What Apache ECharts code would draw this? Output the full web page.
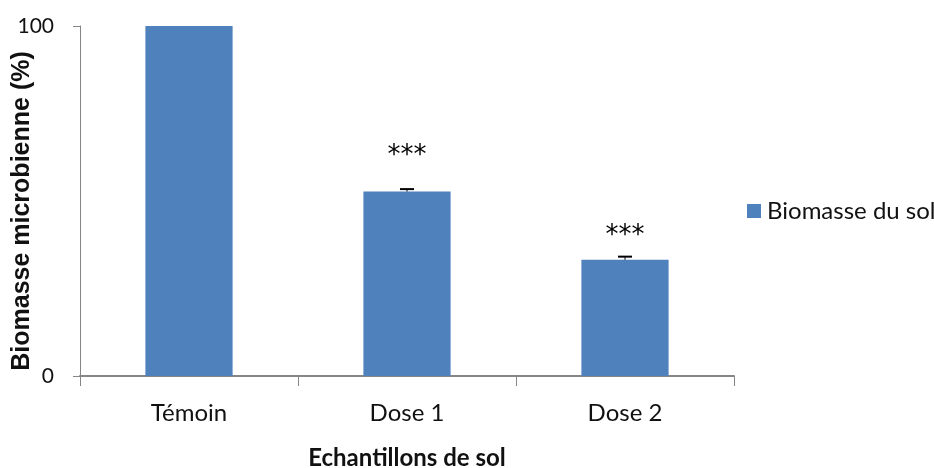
<!DOCTYPE html>
<html>
<head>
<meta charset="utf-8">
<script src="https://cdn.jsdelivr.net/npm/echarts@6/dist/echarts.min.js"></script>
<style>
html,body{margin:0;padding:0;background:#fff;}
#chart{width:934px;height:468px;}
</style>
</head>
<body>
<div id="chart"></div>
<script>
// Soil microbial biomass relative to control
const categories = ['Témoin', 'Dose 1', 'Dose 2'];
const biomass = [100, 52.7, 33.2];
const errors = [0, 0.7, 0.9];
const significance = ['', '***', '***'];

const FONT = 'Lato';
const chart = echarts.init(document.getElementById('chart'));

// vertical gap (px) between error bar top and the significance stars
const starGap = [0, 33, 20];

chart.setOption({
  animation: false,
  grid: { left: 80, right: 200, top: 26, bottom: 92, outerBoundsMode: 'none' },
  legend: {
    left: 742, top: 194,
    itemWidth: 14, itemHeight: 14, itemGap: 6,
    icon: 'rect',
    textStyle: { fontFamily: FONT, fontSize: 24, color: '#111', padding: [0, 0, 0, 1] },
    data: ['Biomasse du sol']
  },
  xAxis: {
    type: 'category',
    data: categories,
    name: 'Echantillons de sol',
    nameLocation: 'middle',
    nameGap: 70,
    nameMoveOverlap: false,
    nameTextStyle: { fontFamily: FONT, fontSize: 24, fontWeight: 'bold', color: '#111' },
    axisLine: { lineStyle: { color: '#868686', width: 2 } },
    axisTick: { show: true, length: 10, alignWithLabel: false, lineStyle: { color: '#868686', width: 1 } },
    axisLabel: { fontFamily: FONT, fontSize: 24, color: '#111', margin: 25 }
  },
  yAxis: {
    type: 'value',
    min: 0, max: 100, interval: 100,
    name: 'Biomasse microbienne (%)',
    nameLocation: 'middle',
    nameGap: 45,
    nameMoveOverlap: false,
    nameTextStyle: {
      fontFamily: 'Liberation Sans', fontSize: 25, fontWeight: 'bold', color: '#111',
      padding: [0, 20, 0, 0]
    },
    axisLine: { show: true, lineStyle: { color: '#868686', width: 1 } },
    axisTick: { show: true, length: 7, lineStyle: { color: '#868686' } },
    axisLabel: { fontFamily: FONT, fontSize: 21, color: '#111', margin: 26 },
    splitLine: { show: false }
  },
  series: [
    {
      name: 'Biomasse du sol',
      type: 'bar',
      data: biomass,
      barWidth: '40%',
      itemStyle: { color: '#4f81bd' }
    },
    {
      type: 'custom',
      name: 'err',
      data: biomass.map((v, i) => [i, v, errors[i]]),
      z: 5,
      renderItem: function (params, api) {
        const i = api.value(0);
        const v = api.value(1);
        const e = api.value(2);
        const children = [];
        if (e > 0) {
          const top = api.coord([i, v + e]);
          const base = api.coord([i, v]);
          children.push({
            type: 'line',
            shape: { x1: top[0], y1: top[1], x2: base[0], y2: base[1] },
            style: { stroke: '#000', lineWidth: 1 }
          });
          children.push({
            type: 'line',
            shape: { x1: top[0] - 7, y1: top[1], x2: top[0] + 7, y2: top[1] },
            style: { stroke: '#000', lineWidth: 2 }
          });
        }
        if (significance[i]) {
          const p = api.coord([i, v + e]);
          children.push({
            type: 'text',
            style: {
              x: p[0], y: p[1] - starGap[i],
              text: significance[i],
              fill: '#000',
              font: '26px "DejaVu Sans"',
              align: 'center', verticalAlign: 'middle'
            }
          });
        }
        return { type: 'group', children: children };
      }
    }
  ]
});
</script>
</body>
</html>
